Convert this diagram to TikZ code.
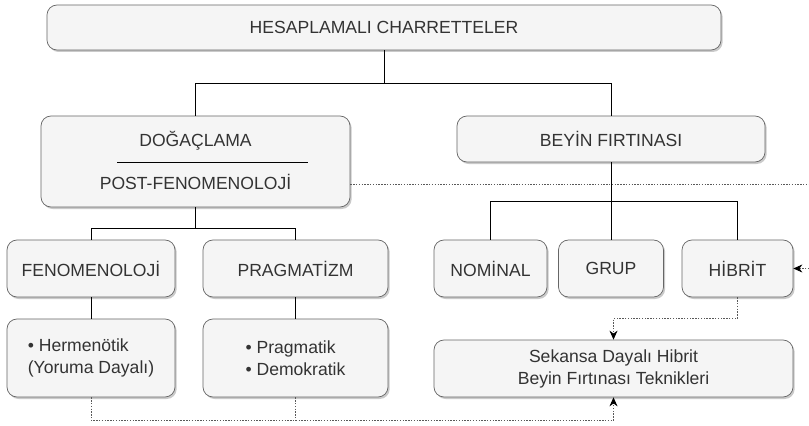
\documentclass[tikz,border=0pt]{standalone}
\usepackage{fontspec}
\setmainfont{Liberation Sans}
\usetikzlibrary{shadows,arrows.meta}
\definecolor{boxfill}{HTML}{F5F5F5}
\definecolor{boxline}{HTML}{666666}
\definecolor{txt}{HTML}{333333}
\tikzset{
  box/.style={draw=boxline,fill=boxfill,rounded corners=0.3cm,line width=0.6pt,
    drop shadow={shadow xshift=0.05cm,shadow yshift=-0.06cm,opacity=0.35,fill=black!60},
    inner sep=0pt},
  link/.style={draw=black,line width=0.55pt},
  dots/.style={draw=black!65,line width=0.55pt,dash pattern=on 1.2pt off 1.2pt},
  ->/.style={-{Stealth[length=0.27cm,width=0.24cm,color=black]}}
}
\tikzstyle{every node}=[text=txt,font=\fontsize{15}{18.8}\selectfont]

\begin{document}
\begin{tikzpicture}[x=0.03cm,y=-0.03cm]
    \useasboundingbox (0,0) rectangle (809,426);
    \clip (0,0) rectangle (809,426);
    \node[box,minimum width=20.22cm,minimum height=1.35cm] (H) at (384,27.5) {HESAPLAMALI CHARRETTELER};
    \node[box,minimum width=9.27cm,minimum height=2.73cm] (D) at (195.5,161.5) {};
    \node (D1) at (195.5,141) {DOĞAÇLAMA};
    \node (D2) at (195.5,182) {POST-FENOMENOLOJİ};
    \draw[link] (117,162) -- (308,162);
    \node[box,minimum width=9.24cm,minimum height=1.38cm] (B) at (611,139) {BEYİN FIRTINASI};
    \node[box,minimum width=5.04cm,minimum height=1.71cm] (F) at (91,268.5) {FENOMENOLOJİ};
    \node[box,minimum width=5.55cm,minimum height=1.71cm] (P) at (295.5,268.5) {PRAGMATİZM};
    \node[box,minimum width=5.04cm,minimum height=2.34cm,align=left] (FH) at (91,358) {• Hermenötik\\(Yoruma Dayalı)};
    \node[box,minimum width=5.55cm,minimum height=2.34cm,align=left] (PP) at (295.5,358) {• Pragmatik\\• Demokratik};
    \node[box,minimum width=3.39cm,minimum height=1.71cm] (N) at (490.5,268.5) {NOMİNAL};
    \node[box,minimum width=3.15cm,minimum height=1.71cm] (G) at (611,268.5) {GRUP};
    \node[box,minimum width=3.33cm,minimum height=1.71cm] (Hb) at (737.5,268.5) {HİBRİT};
    \node[box,minimum width=10.77cm,minimum height=1.71cm,align=center] (S) at (613.5,368.5) {Sekansa Dayalı Hibrit\\Beyin Fırtınası Teknikleri};
    \coordinate (R) at (830,184);
    % tree
    \draw[link] (H.south) -- ++(0,33) -| (D.north);
    \draw[link] (H.south) -- ++(0,33) -| (B.north);
    \draw[link] (D.south) -- ++(0,21) -| (F.north);
    \draw[link] (D.south) -- ++(0,21) -| (P.north);
    \draw[link] (F) -- (FH);
    \draw[link] (P) -- (PP);
    \draw[link] (B.south) -- ++(0,39) -| (N.north);
    \draw[link] (B.south) -- ++(0,39) -| (Hb.north);
    \draw[link] (B) -- (G);
    % dotted links
    \draw[dots,->] (Hb.south) -- ++(0,21) -| (S.north);
    \draw[dots,->] (FH.south) -- ++(0,23) -| (S.south);
    \draw[dots] (PP.south) -- ++(0,23);
    \draw[dots,->] (D.east |- R) -- (R) |- (Hb.east);
\end{tikzpicture}
\end{document}
